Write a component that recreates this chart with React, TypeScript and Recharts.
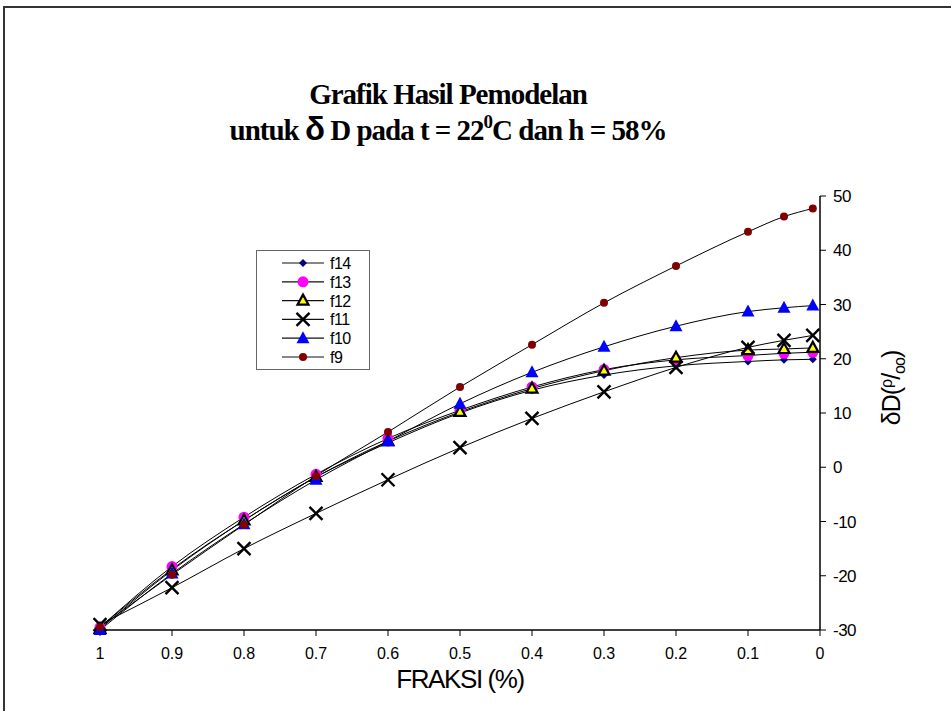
import { LineChart, Line, XAxis, YAxis, Legend } from "recharts";

const fractions = [1, 0.9, 0.8, 0.7, 0.6, 0.5, 0.4, 0.3, 0.2, 0.1, 0.05, 0.01];
const f14 = [-29.5, -18.8, -9.8, -1.8, 4.5, 10.0, 14.2, 17.0, 18.7, 19.5, 19.8, 19.9];
const f13 = [-29.5, -18.3, -9.2, -1.3, 5.3, 10.5, 14.8, 18.0, 19.8, 20.6, 21.0, 21.2];
const f12 = [-29.8, -19.0, -9.8, -1.8, 4.8, 10.2, 14.5, 17.8, 20.2, 21.6, 21.8, 22.0];
const f11 = [-29.0, -22.2, -15.0, -8.5, -2.3, 3.6, 9.0, 13.9, 18.4, 22.1, 23.4, 24.3];
const f10 = [-30.0, -19.6, -10.5, -2.3, 4.8, 11.7, 17.5, 22.2, 26.0, 28.7, 29.4, 29.8];
const f9 = [-29.5, -19.8, -10.6, -1.6, 6.5, 14.8, 22.6, 30.3, 37.1, 43.4, 46.2, 47.7];

const xTicks = [1, 0.9, 0.8, 0.7, 0.6, 0.5, 0.4, 0.3, 0.2, 0.1, 0];
const yTicks = [-30, -20, -10, 0, 10, 20, 30, 40, 50];

const seriesNames = ["f14", "f13", "f12", "f11", "f10", "f9"];
const seriesValues = [f14, f13, f12, f11, f10, f9];

const data = fractions.map((x, i) => {
  const row: any = { x };
  seriesNames.forEach((n, k) => (row[n] = seriesValues[k][i]));
  return row;
});

const ARIAL = "'Liberation Sans', Arial, sans-serif";
const TIMES = "'Liberation Serif', 'Times New Roman', serif";

// marker shapes, one per series
const marker = (name: string, cx: number, cy: number, key?: any) => {
  switch (name) {
    case "f14":
      return (
        <path key={key} d={`M${cx},${cy - 4}L${cx + 4},${cy}L${cx},${cy + 4}L${cx - 4},${cy}Z`} fill="#000080" />
      );
    case "f13":
      return <circle key={key} cx={cx} cy={cy} r={5.5} fill="#ff00ff" />;
    case "f12":
      return (
        <path
          key={key}
          d={`M${cx},${cy - 6}L${cx + 5.5},${cy + 4}L${cx - 5.5},${cy + 4}Z`}
          fill="#ffff00"
          stroke="#000"
          strokeWidth={2.2}
          strokeLinejoin="miter"
        />
      );
    case "f11":
      return (
        <path
          key={key}
          d={`M${cx - 6.5},${cy - 6.5}L${cx + 6.5},${cy + 6.5}M${cx - 6.5},${cy + 6.5}L${cx + 6.5},${cy - 6.5}`}
          stroke="#000"
          strokeWidth={2.4}
          fill="none"
        />
      );
    case "f10":
      return (
        <path key={key} d={`M${cx},${cy - 7}L${cx + 6.5},${cy + 5}L${cx - 6.5},${cy + 5}Z`} fill="#0000ff" />
      );
    default:
      return <circle key={key} cx={cx} cy={cy} r={4} fill="#800000" />;
  }
};

const makeDot = (name: string) => (props: any) =>
  marker(name, props.cx, props.cy, `${name}-${props.index}`);

const LegendBox = () => (
  <div
    style={{
      width: 114,
      height: 120,
      border: "1px solid #666",
      boxSizing: "border-box",
      background: "#fff",
    }}
  >
    <svg width={112} height={118}>
      {seriesNames.map((n, i) => {
        const y = 12 + i * 18.8;
        return (
          <g key={n}>
            <line x1={25} x2={67} y1={y} y2={y} stroke="#111" strokeWidth={1.2} />
            {marker(n, 46, y)}
            <text x={73} y={y + 6} fontFamily={ARIAL} fontSize={16} letterSpacing={-0.5} fill="#000">
              {n}
            </text>
          </g>
        );
      })}
    </svg>
  </div>
);

const YLabel = () => (
  <text
    x={900}
    y={388}
    transform="rotate(-90, 900, 388)"
    textAnchor="middle"
    fontFamily={ARIAL}
    fontSize={25}
    letterSpacing={-1}
    fill="#000"
  >
    δD(
    <tspan fontSize={16} dy={-8}>
      ρ
    </tspan>
    <tspan dy={8}>/</tspan>
    <tspan fontSize={16} dy={5}>
      oo
    </tspan>
    <tspan dy={-5}>)</tspan>
  </text>
);

export default function App() {
  return (
    <div style={{ position: "absolute", left: 0, top: 0, width: 951, height: 711, background: "#fff" }}>
      <LineChart
        width={951}
        height={711}
        data={data}
        margin={{ top: 196, right: 71, bottom: 51, left: 100 }}
      >
        <XAxis
          xAxisId="top"
          orientation="top"
          dataKey="x"
          type="number"
          domain={[0, 1]}
          reversed
          tick={false}
          tickLine={false}
          height={0}
          axisLine={{ stroke: "#555", strokeWidth: 1 }}
        />
        <YAxis
          yAxisId="left"
          orientation="left"
          type="number"
          domain={[-30, 50]}
          tick={false}
          tickLine={false}
          width={0}
          axisLine={{ stroke: "#888", strokeWidth: 1 }}
        />
        <XAxis
          dataKey="x"
          type="number"
          domain={[0, 1]}
          reversed
          ticks={xTicks}
          interval={0}
          height={30}
          tickSize={6}
          tickMargin={12}
          axisLine={{ stroke: "#000", strokeWidth: 1.5 }}
          tickLine={{ stroke: "#000" }}
          tick={{ fill: "#000", fontSize: 16, fontFamily: ARIAL }}
          label={{
            value: "FRAKSI (%)",
            position: "insideBottom",
            offset: -28,
            fill: "#000",
            fontSize: 26,
            letterSpacing: -1.4,
            fontFamily: ARIAL,
          }}
        />
        <YAxis
          orientation="right"
          type="number"
          domain={[-30, 50]}
          ticks={yTicks}
          interval={0}
          width={60}
          tickSize={6}
          tickMargin={7}
          axisLine={{ stroke: "#000", strokeWidth: 1.5 }}
          tickLine={{ stroke: "#000" }}
          tick={{ fill: "#000", fontSize: 17, fontFamily: ARIAL, letterSpacing: -0.5 }}
          label={<YLabel />}
        />
        <Legend
          layout="vertical"
          verticalAlign="middle"
          align="center"
          content={<LegendBox />}
          wrapperStyle={{ left: 256, top: 250, width: 114, height: 120 }}
        />
        {seriesNames.map((n) => (
          <Line
            key={n}
            dataKey={n}
            type="monotone"
            stroke="#000"
            strokeWidth={1}
            dot={makeDot(n)}
            activeDot={false}
            isAnimationActive={false}
          />
        ))}
      </LineChart>
      <svg
        width={951}
        height={711}
        style={{ position: "absolute", left: 0, top: 0, pointerEvents: "none" }}
      >
        <path d="M4,711V7H951" stroke="#333" strokeWidth={2} fill="none" />
        <text
          x={448}
          y={104}
          textAnchor="middle"
          fontFamily={TIMES}
          fontWeight="bold"
          fontSize={29}
          letterSpacing={-1}
          fill="#000"
        >
          Grafik Hasil Pemodelan
        </text>
        <text
          x={448}
          y={140}
          textAnchor="middle"
          fontFamily={TIMES}
          fontWeight="bold"
          fontSize={29}
          letterSpacing={-1}
          fill="#000"
        >
          untuk <tspan fontFamily={ARIAL} fontSize={33}>δ</tspan> D pada t = 22
          <tspan fontSize={19} dy={-12}>
            0
          </tspan>
          <tspan dy={12}>C dan h = 58%</tspan>
        </text>
      </svg>
    </div>
  );
}
